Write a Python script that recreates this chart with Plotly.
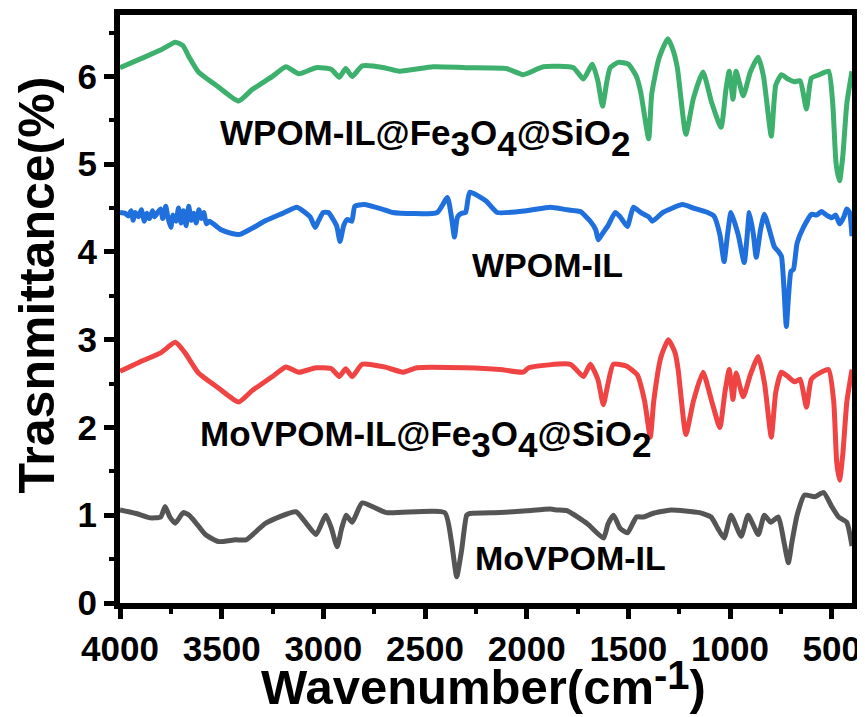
import plotly.graph_objects as go

# ---------------- data ----------------
green_x = [4000, 3900, 3800, 3728, 3690, 3660, 3614, 3516, 3417, 3350, 3250, 3184, 3120, 3036, 2960,
           2922, 2890, 2858, 2809, 2700, 2626, 2460, 2300, 2100, 2017, 1918, 1770, 1721, 1677, 1650,
           1627, 1605, 1589, 1549, 1500, 1460, 1439, 1400, 1385, 1350, 1306, 1280, 1259, 1217, 1180,
           1133, 1090, 1044, 1020, 1004, 985, 970, 935, 900, 861, 835, 797, 775, 747, 715, 683, 655,
           624, 600, 560, 515, 495, 478, 461, 445, 425, 400]
green_y = [6.10, 6.20, 6.30, 6.39, 6.35, 6.22, 6.05, 5.88, 5.72, 5.85, 6.00, 6.11, 6.03, 6.10, 6.08,
           5.99, 6.09, 6.00, 6.12, 6.10, 6.06, 6.11, 6.10, 6.09, 6.02, 6.11, 6.10, 5.97, 6.14, 5.95,
           5.66, 5.95, 6.10, 6.16, 6.14, 6.00, 5.82, 5.29, 5.80, 6.20, 6.43, 6.30, 6.10, 5.34, 5.75,
           6.05, 5.70, 5.42, 5.85, 6.06, 5.74, 6.06, 5.78, 6.05, 6.22, 6.00, 5.32, 5.90, 6.02, 5.97,
           5.94, 5.95, 5.63, 5.98, 6.02, 6.06, 5.70, 5.00, 4.81, 5.10, 5.70, 6.06]

blue_x = [4000, 3975, 3960, 3945, 3935, 3925, 3910, 3895, 3880, 3868, 3855, 3840, 3830, 3815, 3800,
          3790, 3775, 3765, 3750, 3740, 3725, 3712, 3700, 3688, 3675, 3662, 3650, 3638, 3625, 3612,
          3600, 3588, 3575, 3560, 3530, 3500,
          3450, 3410, 3350, 3280, 3200, 3130, 3090, 3065, 3040, 3025, 3000, 2975, 2935, 2918, 2900,
          2883, 2860, 2845, 2800, 2700, 2660, 2440, 2390, 2370, 2355, 2340, 2320, 2300, 2280, 2200,
          2145, 2000, 1884, 1800, 1736, 1687, 1660, 1648, 1630, 1600, 1564, 1540, 1505, 1475, 1440,
          1400, 1382, 1330, 1234, 1180, 1110, 1079, 1050, 1029, 1012, 995, 960, 930, 915, 905, 885,
          871, 850, 831, 800, 782, 760, 747, 735, 723, 712, 700, 688, 670, 639, 599, 575, 550, 525,
          500, 480, 461, 440, 426, 412, 400]
blue_y = [4.45, 4.44, 4.41, 4.47, 4.36, 4.45, 4.40, 4.48, 4.35, 4.44, 4.38, 4.47, 4.40, 4.45, 4.49,
          4.38, 4.52, 4.40, 4.28, 4.42, 4.35, 4.50, 4.33, 4.47, 4.30, 4.52, 4.36, 4.44, 4.33, 4.48,
          4.38, 4.45, 4.32, 4.35, 4.30, 4.25,
          4.21, 4.20, 4.27, 4.36, 4.44, 4.51, 4.45, 4.40, 4.28, 4.35, 4.45, 4.45, 4.30, 4.12, 4.30,
          4.37, 4.35, 4.52, 4.54, 4.48, 4.45, 4.45, 4.62, 4.40, 4.17, 4.40, 4.44, 4.45, 4.68, 4.58,
          4.45, 4.47, 4.51, 4.48, 4.46, 4.35, 4.25, 4.14, 4.20, 4.30, 4.45, 4.40, 4.29, 4.51, 4.45,
          4.40, 4.35, 4.45, 4.54, 4.50, 4.45, 4.41, 4.20, 3.89, 4.20, 4.45, 4.20, 3.88, 4.20, 4.45, 4.20,
          3.94, 4.25, 4.43, 4.20, 4.06, 4.00, 3.95, 3.60, 3.15, 3.50, 3.78, 3.80, 4.10, 4.28, 4.43, 4.42,
          4.46, 4.42, 4.39, 4.42, 4.32, 4.40, 4.49, 4.45, 4.18]

red_x = [4000, 3900, 3800, 3728, 3680, 3614, 3516, 3417, 3350, 3250, 3184, 3120, 3036, 2960, 2922,
         2890, 2858, 2809, 2700, 2607, 2540, 2300, 2130, 2017, 1990, 1785, 1721, 1687, 1650, 1623,
         1600, 1574, 1510, 1456, 1420, 1392, 1375, 1340, 1303, 1270, 1255, 1217, 1180, 1133, 1090,
         1050, 1025, 1004, 985, 970, 935, 900, 861, 830, 797, 775, 747, 715, 683, 655, 624, 600, 560,
         515, 490, 475, 461, 445, 425, 400]
red_y = [2.64, 2.75, 2.85, 2.97, 2.85, 2.62, 2.45, 2.29, 2.42, 2.58, 2.69, 2.63, 2.68, 2.67, 2.58,
         2.67, 2.58, 2.72, 2.69, 2.63, 2.68, 2.68, 2.66, 2.63, 2.68, 2.72, 2.58, 2.72, 2.55, 2.26,
         2.50, 2.72, 2.70, 2.60, 2.30, 1.89, 2.30, 2.80, 3.00, 2.85, 2.66, 1.92, 2.30, 2.63, 2.30,
         2.00, 2.40, 2.66, 2.32, 2.62, 2.35, 2.60, 2.81, 2.50, 1.89, 2.40, 2.63, 2.58, 2.52, 2.55,
         2.23, 2.55, 2.62, 2.66, 2.30, 1.60, 1.40, 1.70, 2.30, 2.66]

gray_x = [4000, 3920, 3852, 3800, 3778, 3755, 3728, 3700, 3689, 3660, 3629, 3580, 3516, 3432, 3380,
          3283, 3135, 3085, 3036, 3000, 2987, 2960, 2932, 2910, 2888, 2858, 2809, 2690, 2403, 2370,
          2344, 2320, 2295, 2280, 2131, 2000, 1884, 1850, 1800, 1700, 1622, 1600, 1573, 1540, 1504,
          1460, 1425, 1380, 1291, 1150, 1093, 1060, 1029, 995, 945, 911, 861, 831, 800, 762, 735,
          713, 695, 670, 634, 584, 540, 500, 466, 426, 400]
gray_y = [1.06, 1.02, 0.97, 0.98, 1.10, 0.98, 0.91, 1.00, 1.03, 1.00, 0.92, 0.78, 0.70, 0.72, 0.72,
          0.91, 1.04, 0.91, 0.78, 0.95, 1.00, 0.85, 0.64, 0.85, 1.00, 0.92, 1.14, 1.03, 1.03, 0.70,
          0.30, 0.60, 1.00, 1.02, 1.03, 1.05, 1.07, 1.06, 1.05, 0.90, 0.74, 0.90, 1.00, 0.85, 0.80,
          0.98, 0.98, 1.02, 1.06, 1.03, 0.98, 0.85, 0.74, 1.00, 0.76, 1.00, 0.78, 1.00, 0.92, 0.98, 0.70,
          0.46, 0.70, 1.00, 1.23, 1.21, 1.26, 1.10, 0.98, 0.92, 0.65]

series_names = ["WPOM-IL@Fe3O4@SiO2", "WPOM-IL", "MoVPOM-IL@Fe3O4@SiO2", "MoVPOM-IL"]
label_texts = ["WPOM-IL@Fe<sub>3</sub>O<sub>4</sub>@SiO<sub>2</sub>", "WPOM-IL",
               "MoVPOM-IL@Fe<sub>3</sub>O<sub>4</sub>@SiO<sub>2</sub>", "MoVPOM-IL"]
label_x = [2497, 1899, 2497, 1786]
label_y = [5.30, 3.85, 1.87, 0.51]
label_sizes = [35, 34, 35, 34]

x_ticks = [4000, 3500, 3000, 2500, 2000, 1500, 1000, 500]
y_ticks = [0, 1, 2, 3, 4, 5, 6]

# ---------------- styling ----------------
FONT = "Arial, 'Liberation Sans', sans-serif"
colors = ["#3cb06c", "#1f6fdd", "#f04444", "#555555"]
xs = [green_x, blue_x, red_x, gray_x]
ys = [green_y, blue_y, red_y, gray_y]

fig = go.Figure()
for name, x, y, c in zip(series_names, xs, ys, colors):
    fig.add_trace(go.Scatter(x=x, y=y, mode="lines", name=name,
                             line=dict(color=c, width=5, shape="spline", smoothing=0.5)))

def big_sub(t):
    return t.replace("<sub>", "<span style='baseline-shift:-11px'>").replace("</sub>", "</span>")

for t, lx, ly, fs in zip(label_texts, label_x, label_y, label_sizes):
    fig.add_annotation(x=lx, y=ly, text=big_sub(t), showarrow=False,
                       font=dict(family=FONT, size=fs, color="black", weight="bold"),
                       xanchor="center", yanchor="middle")

fig.add_annotation(xref="paper", yref="paper", x=-0.114, y=0.541, text="Trasnmittance(%)",
                   textangle=-90, showarrow=False, xanchor="center", yanchor="middle",
                   font=dict(family=FONT, size=50, color="black", weight="bold"))
fig.add_annotation(xref="paper", yref="paper", x=0.497, y=-0.192,
                   text="Wavenumber(cm<span style='baseline-shift:15px;font-size:40px'>-1</span>)",
                   showarrow=False, xanchor="center", yanchor="bottom",
                   font=dict(family=FONT, size=49, color="black", weight="bold"))

axis_common = dict(showline=True, linewidth=6, linecolor="black", mirror=True,
                   ticks="outside", tickwidth=5, tickcolor="black", ticklen=10,
                   showgrid=False, zeroline=False, automargin=False,
                   tickfont=dict(family=FONT, size=35, color="black", weight="bold"))

# page body has an 8px margin: the figure is sized so that the plot frame lands at
# x 120..852, y 15..603 of the window
fig.update_layout(
    width=857, height=709,
    margin=dict(l=112, r=13, t=7, b=114),
    paper_bgcolor="white", plot_bgcolor="white",
    showlegend=False,
    xaxis=dict(range=[4000, 400], tickvals=x_ticks, ticktext=[str(v) for v in x_ticks],
               minor=dict(ticks="outside", dtick=250, tick0=0, ticklen=5, tickwidth=4, tickcolor="black"),
               **axis_common),
    yaxis=dict(range=[0, 6.7], tickvals=y_ticks, ticktext=[str(v) for v in y_ticks],
               minor=dict(ticks="outside", dtick=0.5, tick0=0, ticklen=5, tickwidth=4, tickcolor="black"),
               **axis_common),
)

fig.write_html("out.html")
